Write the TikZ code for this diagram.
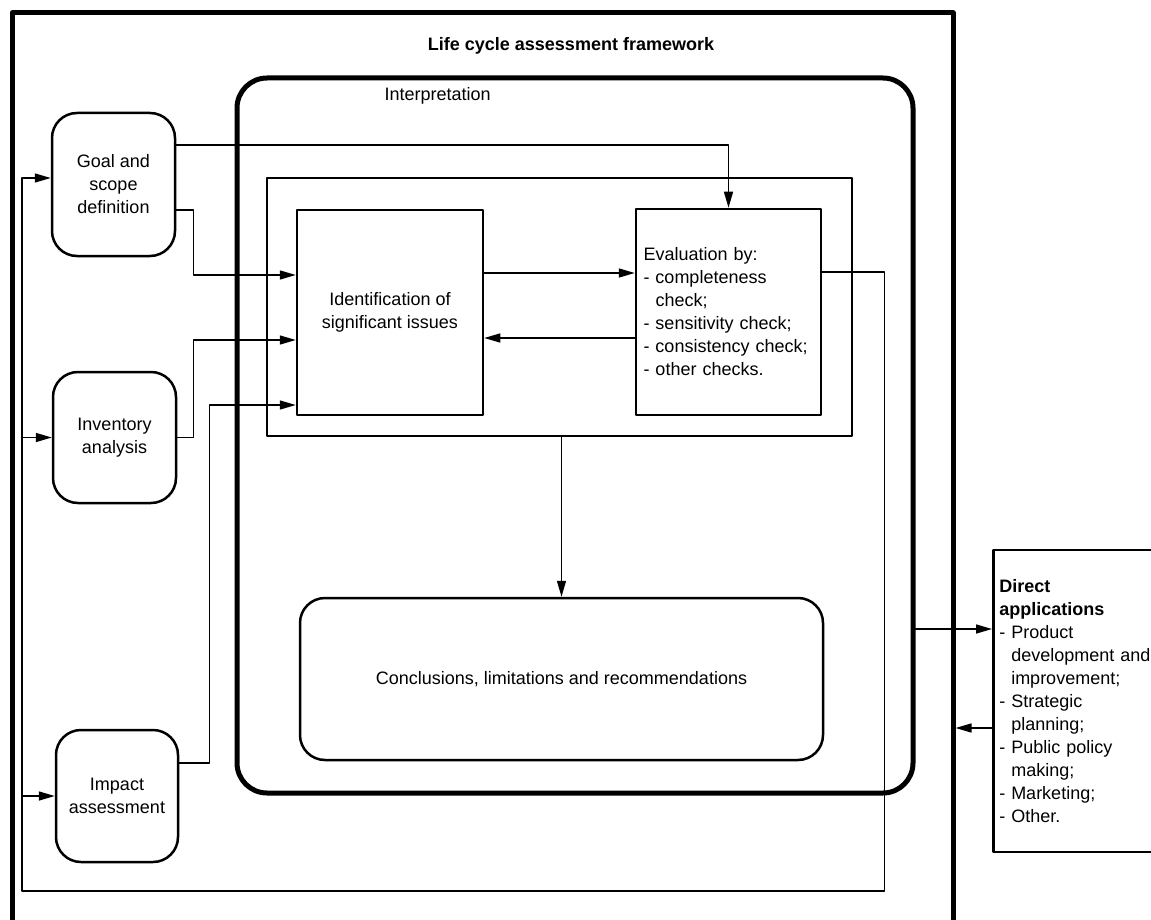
\documentclass[tikz,border=0pt]{standalone}
\usepackage{fontspec}
\setmainfont{Liberation Sans}
\usetikzlibrary{arrows.meta}

\begin{document}
\begin{tikzpicture}[line cap=round,line join=round,>={Triangle[length=16pt,width=9pt]},x=1pt,y=-1pt,
	every node/.style={font=\fontsize{18}{23}\selectfont},
	frame/.style={draw,line width=5pt,inner sep=0pt},
	box/.style={draw,line width=2.5pt,inner sep=0pt},
	stage/.style={box,rounded corners=25pt,minimum width=123pt,align=center},
	conn/.style={line width=1.5pt}]
		\useasboundingbox (0,0) rectangle (1151,920);
		\node[frame,minimum width=941pt,minimum height=917pt] (lca) at (482.5,471.5) {};
		\node[font=\bfseries\fontsize{18}{23}\selectfont] (title) at (571,46) {Life cycle assessment framework};
		\node[frame,rounded corners=30pt,minimum width=676pt,minimum height=715pt] (interp) at (575,435.5) {};
		\node[anchor=west] (interplabel) at (381,96) {Interpretation};
		\node[box,minimum width=585pt,minimum height=258pt] (inner) at (559.5,307) {};
		\node[box,minimum width=186pt,minimum height=205pt,align=center] (ident) at (390,312.5) {Identification of\\significant issues};
		\node[box,minimum width=185pt,minimum height=206pt,text width=170pt,align=left] (eval) at (728.5,312) {Evaluation by:\\- completeness\\\phantom{- }check;\\- sensitivity check;\\- consistency check;\\- other checks.};
		\node[box,rounded corners=25pt,minimum width=523pt,minimum height=162pt] (concl) at (561.5,679) {Conclusions, limitations and recommendations};
		\node[stage,minimum height=143pt] (goal) at (113.5,184.5) {Goal and\\scope\\definition};
		\node[stage,minimum height=131pt] (inv) at (114.5,437.5) {Inventory\\analysis};
		\node[stage,minimum height=132pt,minimum width=122pt] (imp) at (117,796) {Impact\\assessment};
		\node[box,anchor=west,minimum height=302pt,inner xsep=6pt,text width=156pt,align=left] (apps) at (992,701) {\textbf{Direct}\\\textbf{applications}\\- Product\\\phantom{- }development and\\\phantom{- }improvement;\\- Strategic\\\phantom{- }planning;\\- Public policy\\\phantom{- }making;\\- Marketing;\\- Other.};
		\coordinate (fb) at (22,891);
		\draw[conn,->] ([yshift=39.5pt]goal.east) -| (eval.north);
		\draw[conn,->] ([yshift=-25.5pt]goal.east) -- ++(17,0) |- ([yshift=37.5pt]ident.west);
		\draw[conn,->] (inv.east) -- ++(16,0) |- ([yshift=-27.5pt]ident.west);
		\draw[conn,->] ([yshift=33pt]imp.east) -- ++(30,0) |- ([yshift=-92.5pt]ident.west);
		\draw[conn,->] ([yshift=39.5pt]ident.east) -- ([yshift=39pt]eval.west);
		\draw[conn,->] ([yshift=-26pt]eval.west) -- ([yshift=-25.5pt]ident.east);
		\draw[conn,->] (inner.south -| concl.north) -- (concl.north);
		\draw[conn,->] ([yshift=40pt]eval.east) -- ++(62,0) |- (fb) |- ([yshift=6.5pt]goal.west);
		\draw[conn,->] (fb |- inv.west) -- (inv.west);
		\draw[conn,->] (fb |- imp.west) -- (imp.west);
		\draw[conn,->] ([yshift=-193.5pt]interp.east) -- ([yshift=72pt]apps.west);
		\draw[conn,->] ([yshift=-27pt]apps.west) -- ([yshift=-256.5pt]lca.east);
		\end{tikzpicture}
\end{document}
